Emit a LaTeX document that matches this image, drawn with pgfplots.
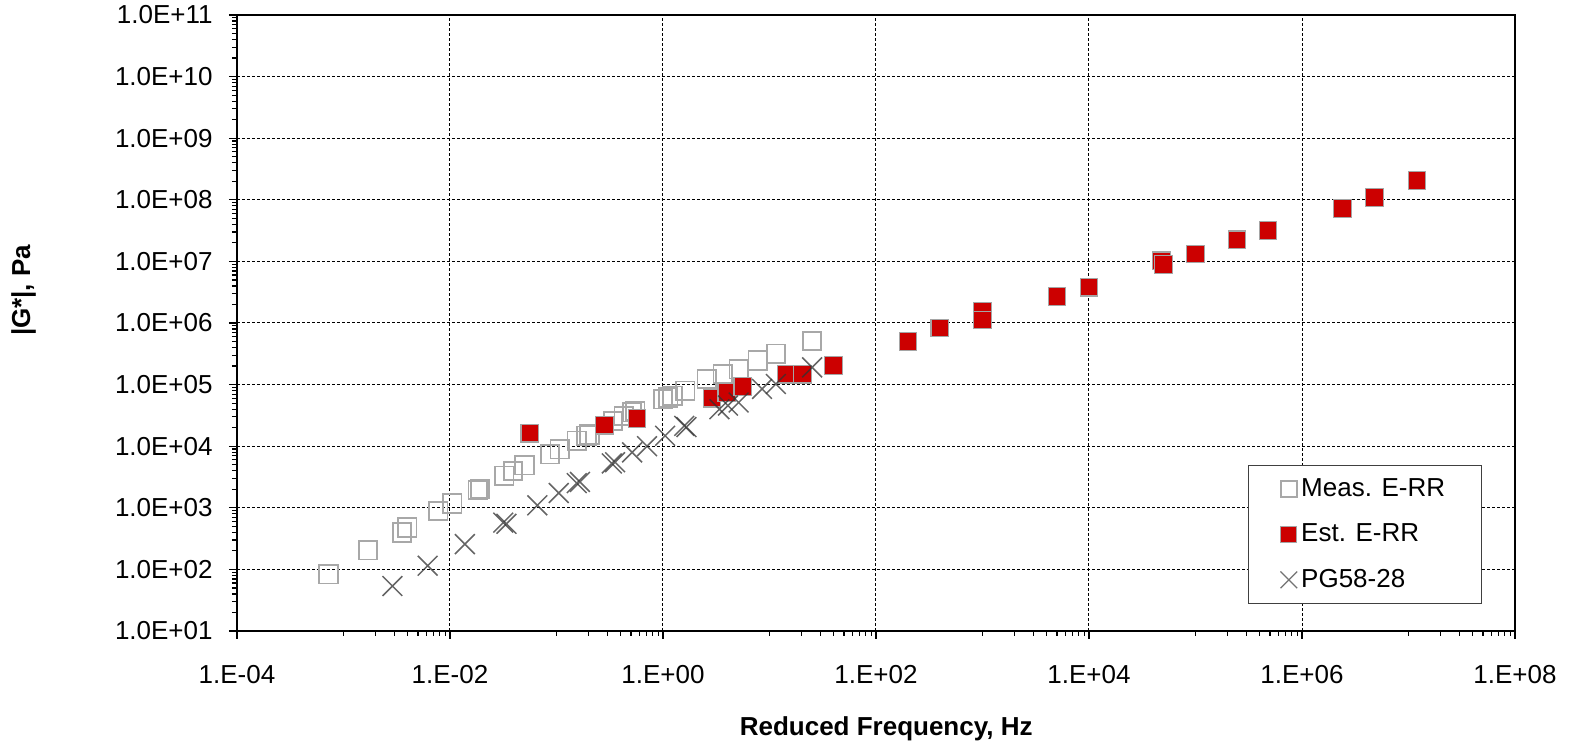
\documentclass[border=0pt]{standalone}
\usepackage{fontspec}
\setmainfont{Liberation Sans}
\usepackage{pgfplots}
\pgfplotsset{compat=1.18}
\definecolor{meas}{RGB}{168,168,168}
\definecolor{estred}{RGB}{204,0,0}
\definecolor{estedge}{RGB}{165,165,165}
\definecolor{pg}{RGB}{50,50,50}
\begin{document}
\begin{tikzpicture}
\begin{loglogaxis}[
  at={(0,0)}, anchor=south west,
  scale only axis, width=639pt, height=308pt,
  xmin=1e-4, xmax=1e8, ymin=10, ymax=1e11,
  xtick={1e-4,1e-2,1,1e2,1e4,1e6,1e8},
  xticklabels={1.E-04,1.E-02,1.E+00,1.E+02,1.E+04,1.E+06,1.E+08},
  minor xtick={1e-3,2e-3,3e-3,4e-3,5e-3,6e-3,7e-3,8e-3,9e-3,
    0.1,0.2,0.3,0.4,0.5,0.6,0.7,0.8,0.9,
    10,20,30,40,50,60,70,80,90,
    1e3,2e3,3e3,4e3,5e3,6e3,7e3,8e3,9e3,
    1e5,2e5,3e5,4e5,5e5,6e5,7e5,8e5,9e5,
    1e7,2e7,3e7,4e7,5e7,6e7,7e7,8e7,9e7},
  ytick={1e1,1e2,1e3,1e4,1e5,1e6,1e7,1e8,1e9,1e10,1e11},
  yticklabels={1.0E+01,1.0E+02,1.0E+03,1.0E+04,1.0E+05,1.0E+06,1.0E+07,1.0E+08,1.0E+09,1.0E+10,1.0E+11},
  minor ytick={20,30,40,50,60,70,80,90,
    200,300,400,500,600,700,800,900,
    2e3,3e3,4e3,5e3,6e3,7e3,8e3,9e3,
    2e4,3e4,4e4,5e4,6e4,7e4,8e4,9e4,
    2e5,3e5,4e5,5e5,6e5,7e5,8e5,9e5,
    2e6,3e6,4e6,5e6,6e6,7e6,8e6,9e6,
    2e7,3e7,4e7,5e7,6e7,7e7,8e7,9e7,
    2e8,3e8,4e8,5e8,6e8,7e8,8e8,9e8,
    2e9,3e9,4e9,5e9,6e9,7e9,8e9,9e9,
    2e10,3e10,4e10,5e10,6e10,7e10,8e10,9e10},
  tick align=outside, tick pos=left,
  major tick length=4pt, minor tick length=2.5pt,
  every tick/.append style={black, line width=0.6pt},
  axis line style={black, line width=1.2pt},
  grid=major,
  major grid style={black, line width=0.5pt, dash pattern=on 1.5pt off 1pt},
  tick label style={font=\fontsize{13}{15}\selectfont, inner sep=0pt},
  xticklabel shift=11.5pt,
  yticklabel shift=8pt,
  xticklabel style={yshift=-1.25pt},
  label style={font=\fontsize{13}{15}\selectfont\bfseries},
  xlabel={Reduced Frequency, Hz},
  ylabel={|G*|, Pa},
  xlabel style={at={(axis description cs:0.508,-0.170)}, anchor=base},
  ylabel style={at={(axis description cs:-0.167,0.553)}, anchor=center},
  legend style={at={(axis description cs:0.974,0.0438)}, anchor=south east,
    draw=black!75, line width=0.6pt, fill=white,
    font=\fontsize{13}{15}\selectfont,
    inner xsep=16pt, inner ysep=4.5pt, row sep=8.3pt,
    nodes={inner sep=2pt}},
  legend cell align=left,
  legend image code/.code={\draw[mark repeat=2,mark phase=2,#1] plot coordinates {(0pt,0pt)(4.5pt,0pt)(9pt,0pt)};},
]
\addplot[only marks, mark=square, mark size=4.6pt, color=meas, mark options={line width=0.9pt},
  legend image post style={mark size=4pt}] coordinates {
(7.24e-4,83.2) (1.70e-3,204) (3.55e-3,398) (3.98e-3,479) (7.76e-3,891)
(1.05e-2,1175) (1.82e-2,1950) (1.91e-2,2042) (3.24e-2,3311) (3.89e-2,3981)
(5.01e-2,4898) (8.71e-2,7413) (0.107,8913) (0.155,12300) (0.191,14790)
(0.204,15490) (0.339,25700) (0.427,30900) (0.513,35480) (0.550,37150)
(1.00,57540) (1.122,61660) (1.230,66070) (1.622,79430) (2.570,123000)
(3.631,147900) (5.129,177800) (7.762,245500) (11.48,316200) (25.12,512900)
};
\addlegendentry{Meas. E-RR}
\addplot[only marks, mark=square*, mark size=4.4pt, mark options={draw=estedge, fill=estred, line width=0.6pt},
  legend image post style={mark size=4pt}] coordinates {
(0.0562,16220) (0.282,21880) (0.569,28180) (2.884,60260) (3.981,74130)
(5.623,93330) (14.45,147900) (20.42,147900) (39.81,204200) (199.5,501200)
(398.1,831800) (1000,1549000) (1000,1122000) (5012,2692000) (10000,3802000)
(47860,1.023e7) (50120,8.913e6) (1e5,1.318e7) (2.455e5,2.239e7) (4.786e5,3.162e7)
(2.399e6,7.244e7) (4.786e6,1.096e8) (1.202e7,2.042e8)
};
\addlegendentry{Est. E-RR}
\addplot[only marks, mark=x, mark size=7pt, color=pg, mark options={line width=0.75pt, draw opacity=0.75},
  legend image post style={mark size=5.9pt, mark options={draw=black!55, draw opacity=1, line width=0.6pt}}] coordinates {
(2.88e-3,53.7) (6.17e-3,114.8) (1.38e-2,257) (3.16e-2,575) (3.39e-2,550)
(6.61e-2,1096) (0.105,1738) (0.155,2512) (0.166,2630) (0.331,5248)
(0.355,5495) (0.513,7943) (0.708,10000) (1.047,14790) (1.585,21380)
(1.660,20420) (3.388,39810) (4.074,45710) (5.129,51290) (8.511,85110)
(11.48,102300) (25.12,190500)
};
\addlegendentry{PG58-28}
\end{loglogaxis}
\pgfresetboundingbox
\useasboundingbox (-118.5pt,-56.5pt) rectangle (669pt,315.5pt);
\end{tikzpicture}
\end{document}
